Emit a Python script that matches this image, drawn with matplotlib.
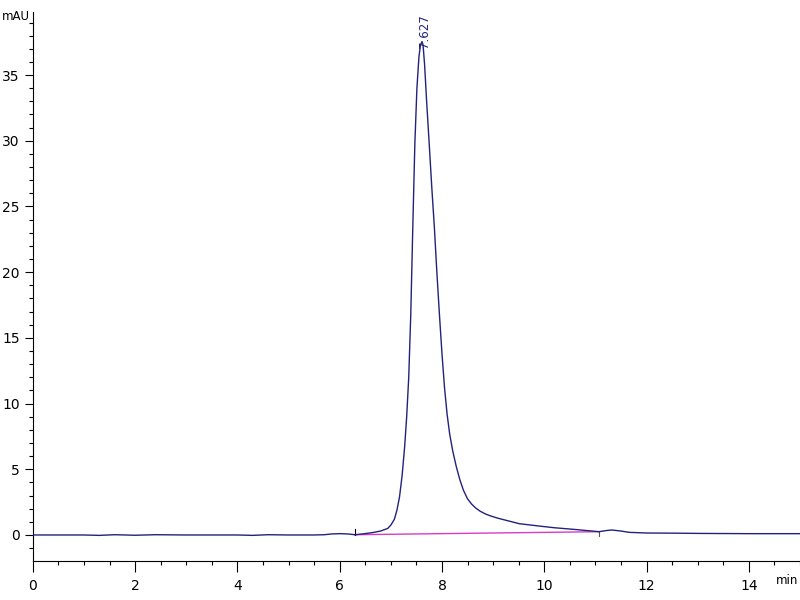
import matplotlib
matplotlib.use("Agg")
import matplotlib.pyplot as plt
from matplotlib.ticker import MultipleLocator

# chromatogram trace (time in min, signal in mAU)
time_min = [0.0, 0.5, 1.0, 1.3, 1.6, 2.0, 2.4, 3.0, 3.5, 4.0, 4.3, 4.6, 5.0,
            5.5, 5.7, 5.85, 6.0, 6.15, 6.3, 6.45, 6.64, 6.8, 6.94, 7.00, 7.07,
            7.12, 7.17, 7.22, 7.27, 7.31, 7.35, 7.39, 7.43, 7.47, 7.51, 7.55,
            7.58, 7.61, 7.63, 7.66, 7.70, 7.75, 7.80, 7.85, 7.90, 7.95, 8.00,
            8.05, 8.10, 8.15, 8.21, 8.28, 8.35, 8.42, 8.50, 8.58, 8.66, 8.75,
            8.85, 8.95, 9.10, 9.30, 9.51, 9.90, 10.2, 10.6, 11.07, 11.2, 11.32,
            11.5, 11.66, 12.0, 12.5, 13.0, 13.5, 14.0, 15.0]
signal_mau = [0.0, 0.0, 0.0, -0.03, 0.02, -0.02, 0.02, 0.0, 0.0, 0.0, -0.03, 0.02, 0.0,
              0.0, 0.02, 0.08, 0.1, 0.08, 0.02, 0.08, 0.18, 0.3, 0.5, 0.75, 1.2,
              1.9, 2.9, 4.5, 6.7, 9.0, 12.0, 16.8, 23.5, 29.8, 34.0, 36.4,
              37.3, 37.55, 37.3, 35.8, 33.0, 29.8, 26.5, 23.5, 20.0, 16.8, 13.8,
              11.2, 9.2, 7.7, 6.4, 5.2, 4.2, 3.4, 2.75, 2.35, 2.05, 1.8,
              1.6, 1.45, 1.27, 1.07, 0.86, 0.68, 0.55, 0.42, 0.25, 0.33, 0.38,
              0.3, 0.2, 0.15, 0.14, 0.12, 0.11, 0.1, 0.1]

# integration baseline and peak annotation
baseline_t = [6.29, 11.07]
baseline_v = [0.02, 0.25]
peak_rt = 7.627
peak_height = 37.55

fig = plt.figure(figsize=(8, 6), dpi=100)
ax = fig.add_axes([0.041, 0.065, 0.959, 0.915])

ax.plot(time_min, signal_mau, color="#22227a", lw=1.0, zorder=3)
ax.plot(baseline_t, baseline_v, color="#d63cc8", lw=1.0, zorder=2)

# integration start/end markers
ax.plot([baseline_t[0], baseline_t[0]], [0.0, 0.45], color="black", lw=0.8)
ax.plot([baseline_t[1], baseline_t[1]], [-0.1, 0.3], color="#555555", lw=0.8)

ax.text(peak_rt + 0.04, peak_height - 0.5, f"{peak_rt:.3f}", rotation=90,
        ha="center", va="bottom", fontsize=8.5, color="#22227a")

ax.set_xlim(0, 15)
ax.set_ylim(-1.98, 39.8)

ax.xaxis.set_major_locator(MultipleLocator(2))
ax.xaxis.set_minor_locator(MultipleLocator(0.5))
ax.yaxis.set_major_locator(MultipleLocator(5))
ax.yaxis.set_minor_locator(MultipleLocator(1))

ax.tick_params(which="major", direction="out", length=6, width=0.8, labelsize=10)
ax.tick_params(which="minor", direction="out", length=3, width=0.8)
ax.tick_params(axis="x", which="major", length=8, pad=5)

for side in ["top", "right"]:
    ax.spines[side].set_visible(False)
for side in ["left", "bottom"]:
    ax.spines[side].set_linewidth(0.8)

fig.text(0.002, 0.972, "mAU", fontsize=8.5, ha="left", va="center")
fig.text(0.998, 0.033, "min", fontsize=8.5, ha="right", va="center")

fig.savefig("out.png", dpi=100, facecolor="white")
